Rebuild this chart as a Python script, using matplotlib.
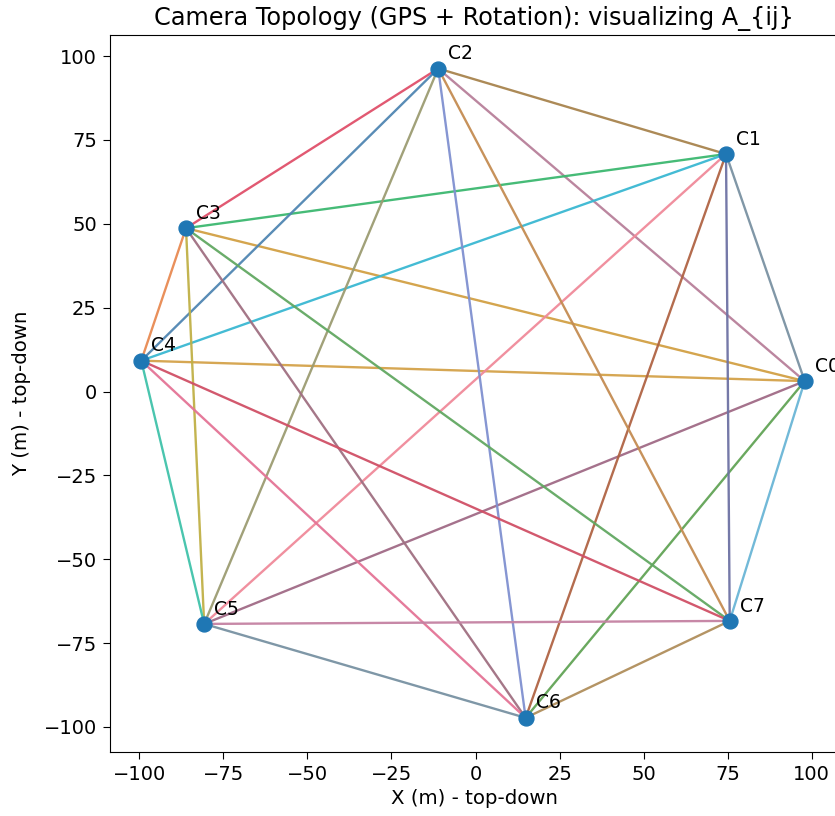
import matplotlib
matplotlib.use("Agg")
import matplotlib.pyplot as plt

cams = ["C0", "C1", "C2", "C3", "C4", "C5", "C6", "C7"]
xs = [97.9, 74.5, -11.1, -86.1, -99.4, -80.7, 14.9, 75.6]
ys = [3.1, 70.8, 96.3, 48.7, 9.2, -69.3, -97.3, -68.4]

edge_i = [0, 0, 0, 0, 0, 0, 0, 1, 1, 1, 1, 1, 1, 2, 2, 2, 2, 2, 3, 3, 3, 3, 4, 4, 4, 5, 5, 6]
edge_j = [1, 2, 3, 4, 5, 6, 7, 2, 3, 4, 5, 6, 7, 3, 4, 5, 6, 7, 4, 5, 6, 7, 5, 6, 7, 6, 7, 7]
edge_colors = [
    "#7a92a2", "#b8809a", "#d2a044", "#d4a24a", "#a06a86", "#62a456", "#6ab6d6",
    "#a8844e", "#3cb870", "#3ab8d2", "#f08a9a", "#b06444", "#6e72a4",
    "#e0506a", "#5086b2", "#9c9c72", "#8090d0", "#c48c52",
    "#e88a52", "#c0b046", "#a07082", "#62a862",
    "#40c2aa", "#e47496", "#d05066",
    "#7892a2", "#c482a2",
    "#b08e5c",
]

fig = plt.figure(figsize=(8.35, 8.16), dpi=100)
ax = fig.add_axes([110 / 835, (816 - 751.7) / 816, (838 - 110) / 835, (751.7 - 35) / 816])

for i, j, c in zip(edge_i, edge_j, edge_colors):
    ax.plot([xs[i], xs[j]], [ys[i], ys[j]], color=c, lw=1.7, alpha=0.95, zorder=1)

ax.scatter(xs, ys, s=115, color="#1f77b4", zorder=3)
for name, x, y in zip(cams, xs, ys):
    ax.text(x + 3, y + 2.8, name, fontsize=13.5, zorder=4)

ax.set_xlim(-108.7, 107.8)
ax.set_ylim(-107.4, 106.3)
ax.set_xticks([-100, -75, -50, -25, 0, 25, 50, 75, 100])
ax.set_yticks([-100, -75, -50, -25, 0, 25, 50, 75, 100])
ax.tick_params(labelsize=14, length=5, pad=4.5)
ax.set_xlabel("X (m) - top-down", fontsize=14.2, labelpad=4)
ax.set_ylabel("Y (m) - top-down", fontsize=14.2, labelpad=9)
ax.set_title("Camera Topology (GPS + Rotation): visualizing A_{ij}", fontsize=17.3, pad=7)

fig.savefig("out.png", dpi=100)
